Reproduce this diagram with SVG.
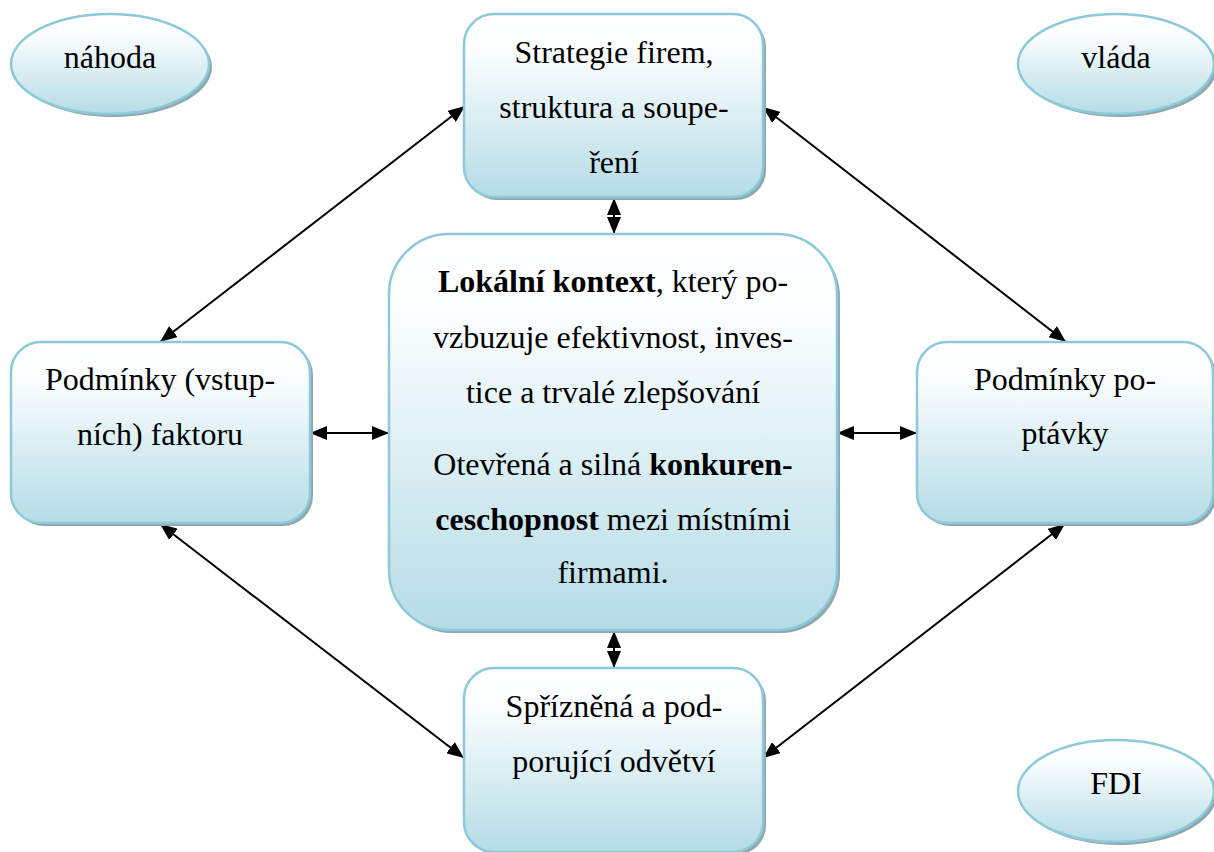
<svg xmlns="http://www.w3.org/2000/svg" width="1214" height="852" viewBox="0 0 1214 852">
<defs>
<linearGradient id="g" x1="0" y1="0" x2="0" y2="1">
<stop offset="0" stop-color="#ffffff"/>
<stop offset="0.22" stop-color="#fafdfe"/>
<stop offset="1" stop-color="#b5dce6"/>
</linearGradient>
<marker id="ah" markerUnits="userSpaceOnUse" markerWidth="17" markerHeight="14" viewBox="0 0 17 14" refX="17" refY="7" orient="auto-start-reverse">
<path d="M0,0 L17,7 L0,14 z" fill="#000"/>
</marker>
<style>
.sh{fill:#8fa7ae}
.bx{fill:url(#g);stroke:#8ccad9;stroke-width:2.5}
.t{font-family:"Liberation Serif","Times New Roman",serif;font-size:32px;fill:#000;text-anchor:middle}
.b{font-weight:bold}
.c{stroke:#000;stroke-width:2;fill:none;marker-start:url(#ah);marker-end:url(#ah)}
</style>
</defs>
<rect width="1214" height="852" fill="#fff"/>

<g id="connectors">
<line class="c" x1="614" y1="198" x2="614" y2="234"/>
<line class="c" x1="614" y1="631" x2="614" y2="668"/>
<line class="c" x1="310" y1="433" x2="389" y2="433"/>
<line class="c" x1="837" y1="433" x2="917" y2="433"/>
<line class="c" x1="160" y1="342" x2="465" y2="106"/>
<line class="c" x1="763" y1="107" x2="1066" y2="342"/>
<line class="c" x1="160" y1="524" x2="464" y2="758"/>
<line class="c" x1="1065" y1="524" x2="763" y2="758"/>
</g>

<g id="nahoda">
<ellipse class="sh" cx="113" cy="67" rx="99" ry="50"/>
<ellipse class="bx" cx="110" cy="64" rx="99" ry="50"/>
<text class="t" x="110" y="68">náhoda</text>
</g>

<g id="vlada">
<ellipse class="sh" cx="1119" cy="67" rx="98" ry="50"/>
<ellipse class="bx" cx="1116" cy="64" rx="98" ry="50"/>
<text class="t" x="1116" y="68">vláda</text>
</g>

<g id="fdi">
<ellipse class="sh" cx="1119" cy="794" rx="98" ry="51"/>
<ellipse class="bx" cx="1116" cy="791" rx="98" ry="51"/>
<text class="t" x="1116" y="794">FDI</text>
</g>

<g id="strategie">
<rect class="sh" x="467" y="17" width="299" height="183" rx="30"/>
<rect class="bx" x="464" y="14" width="299" height="183" rx="30"/>
<text class="t" x="614" y="63">Strategie firem,</text>
<text class="t" x="614" y="118">struktura a soupe-</text>
<text class="t" x="614" y="173">ření</text>
</g>

<g id="kontext">
<rect class="sh" x="392" y="237" width="448" height="396" rx="60"/>
<rect class="bx" x="389" y="234" width="448" height="396" rx="60"/>
<text class="t" x="613" y="292"><tspan class="b">Lokální kontext</tspan>, který po-</text>
<text class="t" x="613" y="348">vzbuzuje efektivnost, inves-</text>
<text class="t" x="613" y="403">tice a trvalé zlepšování</text>
<text class="t" x="613" y="475">Otevřená a silná <tspan class="b">konkuren-</tspan></text>
<text class="t" x="613" y="530"><tspan class="b">ceschopnost</tspan> mezi místními</text>
<text class="t" x="613" y="583">firmami.</text>
</g>

<g id="faktory">
<rect class="sh" x="14" y="345" width="299" height="181" rx="30"/>
<rect class="bx" x="11" y="342" width="299" height="181" rx="30"/>
<text class="t" x="160" y="390">Podmínky (vstup-</text>
<text class="t" x="160" y="445">ních) faktoru</text>
</g>

<g id="poptavka">
<rect class="sh" x="920" y="345" width="296" height="181" rx="30"/>
<rect class="bx" x="917" y="342" width="296" height="181" rx="30"/>
<text class="t" x="1065" y="390">Podmínky po-</text>
<text class="t" x="1065" y="444">ptávky</text>
</g>

<g id="odvetvi">
<rect class="sh" x="467" y="671" width="299" height="184" rx="30"/>
<rect class="bx" x="464" y="668" width="299" height="184" rx="30"/>
<text class="t" x="614" y="717">Spřízněná a pod-</text>
<text class="t" x="614" y="772">porující odvětví</text>
</g>
</svg>
